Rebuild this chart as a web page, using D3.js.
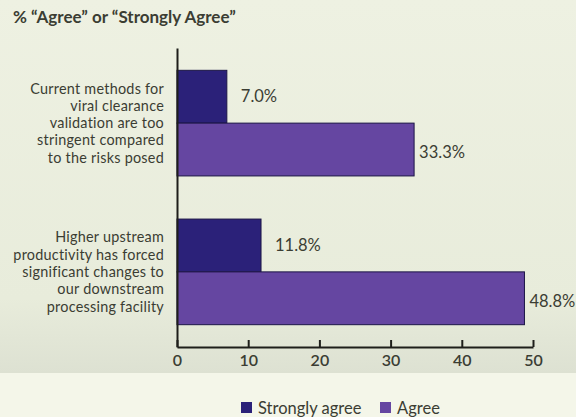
<!DOCTYPE html>
<html>
<head>
<meta charset="utf-8">
<script src="https://cdn.jsdelivr.net/npm/d3@7"></script>
<style>
  html, body { margin: 0; padding: 0; background: #f3f5e7; }
  svg { display: block; }
  text { font-family: Lato, "Open Sans", sans-serif; fill: #3b3d33; }
</style>
</head>
<body>
<svg id="chart" width="576" height="417"></svg>
<script>
// Survey responses, percent of respondents
const statements = [
  ["Current methods for", "viral clearance", "validation are too", "stringent compared", "to the risks posed"],
  ["Higher upstream", "productivity has forced", "significant changes to", "our downstream", "processing facility"]
];
const seriesNames = ["Strongly agree", "Agree"];
const stronglyAgree = [7.0, 11.8];
const agree = [33.3, 48.8];
const xTicks = [0, 10, 20, 30, 40, 50];
const title = "% \u201cAgree\u201d or \u201cStrongly Agree\u201d";

const colors = { "Strongly agree": "#2b2179", "Agree": "#6546a1" };

const svg = d3.select("#chart");
const W = 576, H = 417;
const margin = { left: 177, right: 43, top: 48, bottom: 70 };
const plotBottom = H - margin.bottom; // 347

// page background: greenish upper area, lighter strip below the axis
const defs = svg.append("defs");
const grad = defs.append("linearGradient").attr("id", "bg").attr("x1", 0).attr("x2", 0).attr("y1", 0).attr("y2", 1);
grad.append("stop").attr("offset", "0%").attr("stop-color", "#eef1e2");
grad.append("stop").attr("offset", "80%").attr("stop-color", "#e8ecdb");
grad.append("stop").attr("offset", "100%").attr("stop-color", "#dde1d2");
svg.append("rect").attr("width", W).attr("height", 373).attr("fill", "url(#bg)");
svg.append("rect").attr("y", 373).attr("width", W).attr("height", H - 373).attr("fill", "#f4f6e9");

const ids = statements.map((_, i) => i);
const rows = ids.map(i => ({ id: i, lines: statements[i], values: [stronglyAgree[i], agree[i]] }));

const x = d3.scaleLinear().domain([0, 50]).range([margin.left, W - margin.right]);
const y = d3.scaleBand().domain(ids).range([margin.top, plotBottom]).paddingInner(0.29).paddingOuter(0.15);
const ySub = d3.scaleBand().domain(seriesNames).range([0, y.bandwidth()]);

// title
svg.append("text")
  .attr("x", 13).attr("y", 23)
  .style("font-weight", "bold").style("font-size", "17px")
  .text(title);

// bars
const groups = svg.append("g").selectAll("g").data(rows).join("g")
  .attr("transform", d => `translate(0,${y(d.id)})`);

groups.selectAll("rect")
  .data(d => seriesNames.map((s, k) => ({ s, v: d.values[k] })))
  .join("rect")
  .attr("x", x(0))
  .attr("y", d => ySub(d.s))
  .attr("width", d => x(d.v) - x(0))
  .attr("height", ySub.bandwidth())
  .attr("fill", d => colors[d.s])
  .attr("stroke", "#1c1546")
  .attr("stroke-width", 1);

// value labels
groups.selectAll("text.val")
  .data(d => seriesNames.map((s, k) => ({ s, v: d.values[k] })))
  .join("text")
  .attr("class", "val")
  .attr("x", d => x(d.v) + (d.s === "Agree" ? 5 : 14))
  .attr("y", d => ySub(d.s) + ySub.bandwidth() / 2 + (d.s === "Agree" ? 3 : 0))
  .attr("dy", "0.35em")
  .style("font-size", "16.5px")
  .text(d => d.v.toFixed(1) + "%");

// category labels, one text per line
const lineH = 17.3;
groups.selectAll("text.cat")
  .data(d => d.lines.map((l, i) => ({ l, i, n: d.lines.length })))
  .join("text")
  .attr("class", "cat")
  .attr("text-anchor", "end")
  .style("font-size", "14.4px")
  .style("letter-spacing", "0.25px")
  .attr("x", 164)
  .attr("y", d => y.bandwidth() / 2 + (d.i - (d.n - 1) / 2) * lineH)
  .attr("dy", "0.35em")
  .text(d => d.l);

// axes
const xAxis = d3.axisBottom(x).tickValues(xTicks).tickSize(-7).tickSizeOuter(0).tickPadding(8);
const gx = svg.append("g").attr("transform", `translate(0,${plotBottom})`).call(xAxis);
gx.selectAll("path, line").attr("stroke", "#1e1e1a").attr("stroke-width", 2);
gx.selectAll("text").style("font-size", "16px").style("font-weight", "600")
  .style("font-family", "Lato, sans-serif").attr("fill", "#3b3d33");

const yAxis = d3.axisLeft(y).tickSize(0).tickSizeOuter(0).tickFormat("");
const gy = svg.append("g").attr("transform", `translate(${margin.left},0)`).call(yAxis);
gy.select("path").attr("stroke", "#1e1e1a").attr("stroke-width", 2);

// legend
const legend = svg.append("g").attr("transform", "translate(241,402)");
const items = legend.selectAll("g").data(seriesNames).join("g")
  .attr("transform", (d, i) => `translate(${i === 0 ? 0 : 139},0)`);
items.append("rect").attr("width", 11).attr("height", 11).attr("fill", d => colors[d]);
items.append("text").attr("x", 17).attr("y", 6).attr("dy", "0.35em")
  .style("font-size", "16.5px").text(d => d);
</script>
</body>
</html>
